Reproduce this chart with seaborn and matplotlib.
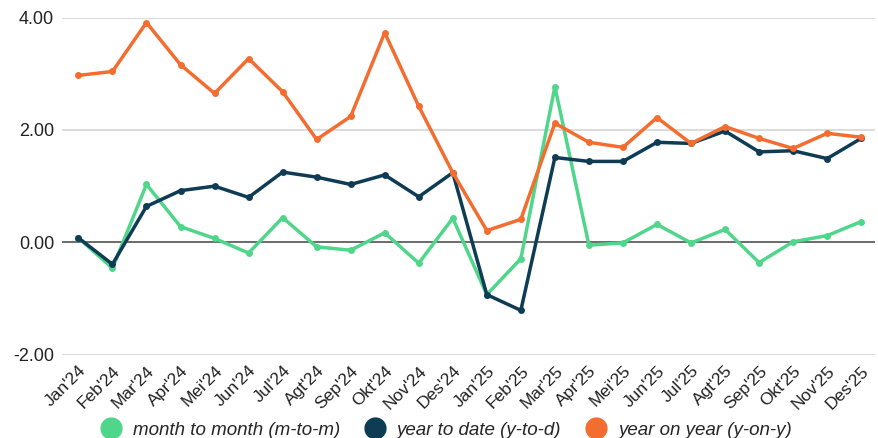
import numpy as np
import pandas as pd
import matplotlib
matplotlib.use("Agg")
import matplotlib.pyplot as plt
import seaborn as sns
from matplotlib.lines import Line2D

# ==========================================
# DATA
# ==========================================
months = ["Jan'24", "Feb'24", "Mar'24", "Apr'24", "Mei'24", "Jun'24",
          "Jul'24", "Agt'24", "Sep'24", "Okt'24", "Nov'24", "Des'24",
          "Jan'25", "Feb'25", "Mar'25", "Apr'25", "Mei'25", "Jun'25",
          "Jul'25", "Agt'25", "Sep'25", "Okt'25", "Nov'25", "Des'25"]

mtm = [0.08, -0.46, 1.03, 0.28, 0.07, -0.19, 0.44, -0.08, -0.14, 0.17, -0.37, 0.43,
       -0.93, -0.29, 2.77, -0.05, -0.01, 0.32, -0.01, 0.23, -0.36, 0.01, 0.12, 0.37]
ytd = [0.08, -0.39, 0.64, 0.92, 1.00, 0.80, 1.25, 1.16, 1.03, 1.20, 0.81, 1.24,
       -0.93, -1.21, 1.51, 1.44, 1.44, 1.78, 1.76, 1.98, 1.61, 1.63, 1.49, 1.85]
yoy = [2.97, 3.04, 3.91, 3.16, 2.65, 3.27, 2.68, 1.83, 2.24, 3.73, 2.42, 1.24,
       0.21, 0.41, 2.12, 1.78, 1.69, 2.22, 1.76, 2.06, 1.85, 1.67, 1.94, 1.87]

series_names = ["month to month (m-to-m)", "year to date (y-to-d)", "year on year (y-on-y)"]
colors = ["#50d68b", "#0e3c55", "#f36d31"]
y_ticks = [-2, 0, 2, 4]

df = pd.DataFrame({
    "bulan": months * 3,
    "nilai": mtm + ytd + yoy,
    "seri": np.repeat(series_names, len(months)),
})

# ==========================================
# PLOT
# ==========================================
sns.set_style("white")
plt.rcParams["font.family"] = ["Liberation Sans", "DejaVu Sans"]

fig = plt.figure(figsize=(8.79, 4.38), dpi=100)
ax = fig.add_axes([0.071, 0.19, 0.925, 0.77])

for yv in y_ticks:
    ax.axhline(yv, color="#5f5f5f" if yv == 0 else "#d6d6d6",
               lw=1.3 if yv == 0 else 1.2, zorder=0)

sns.lineplot(data=df, x="bulan", y="nilai", hue="seri", palette=colors,
             sort=False, marker="o", markersize=5, markeredgewidth=0,
             linewidth=2.5, legend=False, ax=ax)

ax.set_xlim(-0.47, len(months) - 1 + 0.42)
ax.set_ylim(-2, 4)
ax.set_yticks(y_ticks)
ax.set_yticklabels([f"{v:.2f}" for v in y_ticks], fontsize=13, color="#222222")
ax.set_xticks(range(len(months)))
ax.set_xticklabels(months, rotation=45, ha="right", rotation_mode="anchor",
                   fontsize=12.5, color="#222222")
ax.tick_params(axis="both", length=0, pad=6)
ax.set_xlabel("")
ax.set_ylabel("")
sns.despine(ax=ax, left=True, bottom=True)

handles = [Line2D([], [], marker="o", linestyle="", markersize=15, color=c) for c in colors]
leg = fig.legend(handles, series_names, loc="lower center", ncol=3,
                 bbox_to_anchor=(0.507, -0.04), frameon=False, handlelength=1.2,
                 handletextpad=0.55, columnspacing=1.27,
                 prop={"style": "italic", "size": 13.5})

fig.savefig("out.png", dpi=100)
